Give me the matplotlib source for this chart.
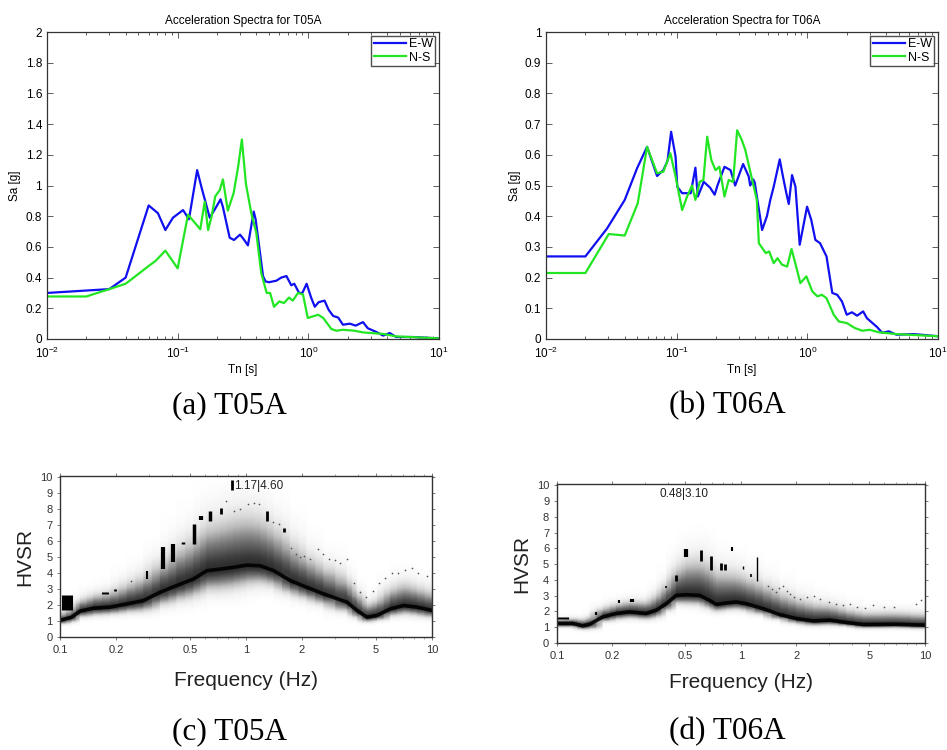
import matplotlib
matplotlib.use("Agg")
import matplotlib.pyplot as plt
import numpy as np
from matplotlib.ticker import LogLocator, FixedLocator, NullFormatter, MultipleLocator

plt.rcParams["font.family"] = ["Liberation Sans", "DejaVu Sans"]
plt.rcParams["mathtext.fontset"] = "custom"
plt.rcParams["mathtext.rm"] = "Liberation Sans"
plt.rcParams["mathtext.it"] = "Liberation Sans:italic"

# ---- response spectra, station T05A ----
t05_ew_T = [0.01, 0.030, 0.040, 0.060, 0.0706, 0.0805, 0.092, 0.110, 0.122, 0.141, 0.152,
            0.176, 0.194, 0.213, 0.222, 0.250, 0.270, 0.300, 0.320, 0.345, 0.382, 0.395,
            0.450, 0.470, 0.500, 0.570, 0.620, 0.680, 0.740, 0.780, 0.850, 0.900, 0.970,
            1.05, 1.12, 1.20, 1.33, 1.43, 1.55, 1.69, 1.84, 2.08, 2.30, 2.62, 2.85, 3.33,
            3.74, 4.19, 4.70, 6.30, 10.0]
t05_ew_Sa = [0.30, 0.325, 0.40, 0.87, 0.82, 0.71, 0.79, 0.84, 0.78, 1.10, 0.99,
             0.79, 0.85, 0.91, 0.86, 0.66, 0.645, 0.68, 0.65, 0.61, 0.83, 0.78,
             0.41, 0.375, 0.37, 0.38, 0.40, 0.41, 0.35, 0.36, 0.30, 0.30, 0.36,
             0.27, 0.21, 0.24, 0.25, 0.19, 0.15, 0.14, 0.093, 0.10, 0.087, 0.11, 0.07, 0.045,
             0.022, 0.039, 0.013, 0.013, 0.004]
t05_ns_T = [0.01, 0.020, 0.030, 0.040, 0.061, 0.068, 0.0805, 0.100, 0.120, 0.133, 0.149,
            0.161, 0.171, 0.182, 0.194, 0.210, 0.222, 0.242, 0.268, 0.290, 0.310, 0.333,
            0.366, 0.400, 0.436, 0.480, 0.510, 0.546, 0.600, 0.650, 0.711, 0.760, 0.834,
            0.910, 0.990, 1.08, 1.19, 1.30, 1.50, 1.64, 1.84, 2.25, 2.62, 3.74, 4.70, 10.0]
t05_ns_Sa = [0.277, 0.277, 0.325, 0.36, 0.48, 0.51, 0.576, 0.46, 0.81, 0.765, 0.715,
             0.895, 0.71, 0.80, 0.93, 0.97, 1.04, 0.836, 0.95, 1.12, 1.30, 1.01,
             0.82, 0.69, 0.43, 0.30, 0.30, 0.21, 0.245, 0.234, 0.27, 0.25, 0.30,
             0.29, 0.137, 0.147, 0.158, 0.137, 0.065, 0.054, 0.06, 0.054, 0.043, 0.033, 0.017, 0.004]

# ---- response spectra, station T06A ----
t06_ew_T = [0.01, 0.020, 0.0293, 0.040, 0.0497, 0.0593, 0.0707, 0.079, 0.085, 0.0906, 0.098,
            0.101, 0.110, 0.128, 0.139, 0.145, 0.161, 0.180, 0.195, 0.205, 0.232, 0.258,
            0.280, 0.322, 0.355, 0.365, 0.385, 0.395, 0.450, 0.490, 0.520, 0.552, 0.614,
            0.650, 0.690, 0.720, 0.763, 0.810, 0.873, 0.994, 1.07, 1.15, 1.25, 1.40, 1.55,
            1.69, 1.84, 2.00, 2.19, 2.40, 2.67, 2.85, 3.41, 3.74, 4.19, 4.80, 6.50, 10.0]
t06_ew_Sa = [0.269, 0.269, 0.36, 0.453, 0.556, 0.626, 0.531, 0.55, 0.58, 0.675, 0.594,
             0.496, 0.475, 0.475, 0.558, 0.464, 0.512, 0.493, 0.47, 0.50, 0.561, 0.55,
             0.50, 0.57, 0.53, 0.50, 0.52, 0.51, 0.355, 0.40, 0.453, 0.496, 0.585,
             0.529, 0.475, 0.44, 0.534, 0.496, 0.307, 0.431, 0.388, 0.323, 0.312, 0.269, 0.15,
             0.144, 0.122, 0.079, 0.087, 0.076, 0.09, 0.068, 0.039, 0.02, 0.025, 0.014, 0.016, 0.009]
t06_ns_T = [0.01, 0.020, 0.0302, 0.040, 0.0503, 0.0593, 0.0707, 0.079, 0.0894, 0.098, 0.110,
            0.120, 0.131, 0.139, 0.150, 0.160, 0.171, 0.184, 0.198, 0.212, 0.232, 0.250,
            0.270, 0.290, 0.315, 0.335, 0.378, 0.410, 0.425, 0.480, 0.510, 0.552, 0.590,
            0.640, 0.700, 0.756, 0.820, 0.883, 0.982, 1.09, 1.19, 1.29, 1.40, 1.59, 1.74,
            2.00, 2.30, 2.62, 3.00, 3.50, 4.80, 10.0]
t06_ns_Sa = [0.215, 0.215, 0.342, 0.337, 0.442, 0.626, 0.54, 0.545, 0.605, 0.529, 0.42,
             0.464, 0.50, 0.453, 0.512, 0.518, 0.659, 0.583, 0.55, 0.561, 0.464, 0.518,
             0.512, 0.68, 0.648, 0.615, 0.518, 0.453, 0.312, 0.28, 0.285, 0.247, 0.263,
             0.242, 0.236, 0.293, 0.236, 0.182, 0.204, 0.155, 0.139, 0.144, 0.133, 0.079, 0.057,
             0.052, 0.036, 0.027, 0.03, 0.022, 0.016, 0.009]

# ---- HVSR, station T05A: median curve and spread of the window population ----
t05_f = [0.1, 0.1156, 0.128, 0.151, 0.186, 0.229, 0.281, 0.345, 0.424, 0.522, 0.615, 0.726,
         0.857, 1.01, 1.19, 1.41, 1.73, 2.12, 2.61, 3.49, 3.95, 4.47, 5.06, 5.97, 7.04, 8.3, 10.0]
t05_hv = [1.04, 1.24, 1.62, 1.80, 1.87, 2.07, 2.28, 2.80, 3.22, 3.63, 4.15, 4.25,
          4.36, 4.50, 4.46, 4.15, 3.53, 3.11, 2.70, 2.18, 1.66, 1.24, 1.35, 1.76, 1.97, 1.87, 1.66]
t05_up = [0.3, 0.4, 0.5, 0.6, 0.7, 0.9, 1.1, 1.3, 1.6, 1.8, 2.0, 2.1,
          2.2, 2.2, 2.1, 1.9, 1.7, 1.4, 1.2, 1.0, 0.8, 0.6, 0.7, 0.9, 1.0, 0.9, 0.8]
t05_lo = [0.15, 0.2, 0.25, 0.3, 0.3, 0.35, 0.45, 0.55, 0.65, 0.75, 0.85, 0.9,
          0.9, 0.85, 0.75, 0.65, 0.55, 0.5, 0.45, 0.4, 0.3, 0.2, 0.2, 0.3, 0.35, 0.35, 0.3]
# individual window maxima (frequency, low, high, bar width in pt)
t05_mark_f = [0.109, 0.175, 0.198, 0.294, 0.356, 0.407, 0.458, 0.522, 0.57, 0.64, 0.73, 0.845, 1.30, 1.60]
t05_mark_lo = [1.66, 2.68, 2.85, 3.6, 4.25, 4.67, 5.8, 5.8, 7.35, 7.25, 7.7, 9.2, 7.25, 6.55]
t05_mark_hi = [2.63, 2.80, 3.0, 4.15, 5.64, 5.85, 5.95, 7.1, 7.55, 7.9, 8.1, 9.85, 7.9, 6.85]
t05_mark_w = [8, 5, 2, 1.5, 3, 3, 2.5, 2.5, 3, 2.5, 2, 2, 2, 2]
t05_dot_f = [0.24, 0.78, 0.86, 0.93, 1.02, 1.10, 1.18, 1.4, 1.5, 1.75, 1.85, 1.95, 2.05, 2.2,
             2.45, 2.6, 2.8, 3.0, 3.2, 3.5, 3.8, 4.1, 4.4, 4.8, 5.2, 5.6, 6.1, 6.6, 7.2, 7.8, 8.4, 9.4]
t05_dot_h = [3.5, 8.5, 7.9, 8.0, 8.3, 8.4, 8.3, 7.2, 7.1, 5.6, 5.2, 5.0, 5.1, 4.9,
             5.5, 5.2, 4.9, 4.8, 4.6, 4.9, 3.4, 2.8, 2.5, 2.9, 3.4, 3.7, 4.0, 4.0, 4.2, 4.3, 4.0, 3.8]

# ---- HVSR, station T06A ----
t06_f = [0.1, 0.122, 0.138, 0.151, 0.178, 0.21, 0.248, 0.306, 0.347, 0.393, 0.446, 0.505,
         0.597, 0.676, 0.736, 0.834, 0.946, 1.07, 1.32, 1.63, 2.0, 2.47, 3.04, 3.75, 4.62, 7.0, 10.0]
t06_hv = [1.24, 1.24, 1.09, 1.19, 1.66, 1.87, 1.97, 1.87, 2.08, 2.49, 3.02, 3.06,
          3.02, 2.70, 2.45, 2.54, 2.60, 2.49, 2.18, 1.80, 1.55, 1.40, 1.45, 1.30, 1.17, 1.19, 1.13]
t06_up = [0.2, 0.25, 0.3, 0.35, 0.4, 0.45, 0.5, 0.55, 0.7, 0.9, 1.2, 1.5,
          1.6, 1.6, 1.5, 1.4, 1.3, 1.2, 1.1, 1.0, 0.9, 0.8, 0.7, 0.6, 0.55, 0.55, 0.5]
t06_lo = [0.15, 0.15, 0.15, 0.2, 0.2, 0.25, 0.25, 0.25, 0.3, 0.3, 0.35, 0.4,
          0.4, 0.35, 0.3, 0.3, 0.3, 0.3, 0.25, 0.2, 0.2, 0.2, 0.2, 0.15, 0.15, 0.15, 0.15]
t06_mark_f = [0.108, 0.164, 0.217, 0.255, 0.393, 0.443, 0.505, 0.61, 0.69, 0.78, 0.82, 0.90, 1.03, 1.13, 1.23]
t06_mark_lo = [1.49, 1.80, 2.55, 2.6, 3.5, 3.96, 5.43, 5.2, 4.6, 4.6, 4.6, 5.85, 4.7, 4.2, 3.96]
t06_mark_hi = [1.66, 1.97, 2.70, 2.8, 3.6, 4.28, 5.95, 5.9, 5.5, 5.05, 5.0, 6.1, 4.9, 4.4, 5.43]
t06_mark_w = [8, 1.5, 1.5, 3, 1.2, 2, 3, 2, 2, 2, 2, 1.5, 1, 1.2, 1]
t06_dot_f = [1.40, 1.48, 1.55, 1.62, 1.70, 1.78, 1.86, 1.95, 2.1, 2.3, 2.5, 2.7, 3.0, 3.3,
             3.6, 3.9, 4.3, 4.7, 5.2, 6.0, 6.8, 9.0, 9.5]
t06_dot_h = [3.6, 3.4, 3.2, 3.5, 3.6, 3.3, 3.1, 2.9, 2.8, 2.9, 3.0, 2.8, 2.6, 2.5,
             2.4, 2.5, 2.3, 2.2, 2.4, 2.3, 2.3, 2.5, 2.7]

BLUE = "#1010f0"
GREEN = "#22e622"


def spectra_panel(ax, title, ew_T, ew_Sa, ns_T, ns_Sa, ymax, ystep):
    ax.plot(ew_T, ew_Sa, color=BLUE, lw=1.6, label="E-W")
    ax.plot(ns_T, ns_Sa, color=GREEN, lw=1.6, label="N-S")
    ax.set_xscale("log")
    ax.set_xlim(1e-2, 1e1)
    ax.set_ylim(0, ymax)
    ax.yaxis.set_major_locator(MultipleLocator(ystep))
    ax.xaxis.set_major_locator(LogLocator(base=10, numticks=10))
    ax.xaxis.set_minor_locator(LogLocator(base=10, subs=np.arange(2, 10), numticks=20))
    ax.xaxis.set_minor_formatter(NullFormatter())
    ax.tick_params(which="both", direction="in", top=True, right=True, labelsize=8.5,
                   width=0.6, color="#444444")
    ax.tick_params(which="major", length=4)
    ax.tick_params(which="minor", length=2)
    ax.tick_params(axis="x", which="major", pad=5)
    ax.yaxis.set_major_formatter(plt.FuncFormatter(lambda v, p: f"{v:g}"))
    ax.set_title(title, fontsize=8.5, pad=6)
    ax.set_xlabel("Tn [s]", fontsize=8.5, va="center")
    ax.xaxis.set_label_coords(0.5, -0.101)
    ax.set_ylabel("Sa [g]", fontsize=8.5, labelpad=3)
    for s in ax.spines.values():
        s.set_linewidth(0.9)
        s.set_color("#333333")
    leg = ax.legend(loc="upper right", fontsize=9, handlelength=2.6, handletextpad=0.2,
                    borderpad=0.2, labelspacing=0.1, borderaxespad=0.3, fancybox=False)
    leg.get_frame().set_edgecolor("#222222")
    leg.get_frame().set_linewidth(1.0)


def hvsr_panel(ax, f, hv, up, lo, mark_f, mark_lo, mark_hi, mark_w, dot_f, dot_h,
               peak_text, text_f, xlabel_y):
    f = np.asarray(f)
    hv = np.asarray(hv)
    up = np.asarray(up)
    lo = np.asarray(lo)
    # density of the window HVSR curves around the median, one column per frequency
    h = np.linspace(0, 10.1, 300)
    F, H = np.meshgrid(f, h)
    dev = H - hv[None, :]
    width = np.where(dev > 0, up[None, :], lo[None, :])
    dens = 0.85 * np.exp(-0.5 * (dev / width) ** 2) ** 1.2
    ax.pcolormesh(F, H, dens, cmap="Greys", vmin=0, vmax=1.0, shading="gouraud",
                  rasterized=True)
    ax.plot(f, hv, color="black", lw=2.6, alpha=0.9)
    ax.vlines(mark_f, mark_lo, mark_hi, colors="black", linewidths=mark_w)
    ax.scatter(dot_f, dot_h, s=1.5, color="#555555", linewidths=0)
    ax.text(text_f, 9.45, peak_text, fontsize=8.5, va="center", ha="left", color="#222222")
    ax.set_xscale("log")
    ax.set_xlim(0.1, 10)
    ax.set_ylim(0, 10.08)
    ax.xaxis.set_major_locator(FixedLocator([0.1, 0.2, 0.5, 1, 2, 5, 10]))
    ax.xaxis.set_major_formatter(plt.FuncFormatter(lambda v, p: f"{v:g}"))
    ax.xaxis.set_minor_locator(FixedLocator([0.3, 0.4, 0.6, 0.7, 0.8, 0.9, 3, 4, 6, 7, 8, 9]))
    ax.xaxis.set_minor_formatter(NullFormatter())
    ax.yaxis.set_major_locator(MultipleLocator(1))
    ax.tick_params(direction="out", top=True, right=True, labelsize=8, length=2.5,
                   width=0.6, color="#666666", labelcolor="#333333", pad=3)
    ax.tick_params(which="minor", direction="out", top=True, length=1.5, width=0.5, color="#888888")
    ax.set_xlabel("Frequency (Hz)", fontsize=15, color="#222222", va="center")
    ax.xaxis.set_label_coords(0.5, xlabel_y)
    ax.set_ylabel("HVSR", fontsize=15, labelpad=4, color="#222222")
    for s in ax.spines.values():
        s.set_linewidth(1.0)
        s.set_color("#333333")


fig = plt.figure(figsize=(9.47, 7.5), dpi=100)

ax_a = fig.add_axes([0.0496, 0.548, 0.414, 0.4093])
ax_b = fig.add_axes([0.5766, 0.548, 0.414, 0.4093])
ax_c = fig.add_axes([0.0634, 0.1507, 0.3928, 0.2147])
ax_d = fig.add_axes([0.588, 0.1427, 0.3886, 0.212])

spectra_panel(ax_a, "Acceleration Spectra for T05A", t05_ew_T, t05_ew_Sa, t05_ns_T, t05_ns_Sa, 2.0, 0.2)
spectra_panel(ax_b, "Acceleration Spectra for T06A", t06_ew_T, t06_ew_Sa, t06_ns_T, t06_ns_Sa, 1.0, 0.1)
hvsr_panel(ax_c, t05_f, t05_hv, t05_up, t05_lo, t05_mark_f, t05_mark_lo, t05_mark_hi, t05_mark_w,
           t05_dot_f, t05_dot_h, "1.17|4.60", 0.865, -0.27)
hvsr_panel(ax_d, t06_f, t06_hv, t06_up, t06_lo, t06_mark_f, t06_mark_lo, t06_mark_hi, t06_mark_w,
           t06_dot_f, t06_dot_h, "0.48|3.10", 0.362, -0.25)

cap = dict(fontsize=22.5, family=["Liberation Serif", "DejaVu Serif"], ha="center", va="center")
fig.text(0.242, 0.459, "(a) T05A", **cap)
fig.text(0.768, 0.459, "(b) T06A", **cap)
fig.text(0.242, 0.025, "(c) T05A", **cap)
fig.text(0.768, 0.025, "(d) T06A", **cap)

fig.savefig("out.png", dpi=100)
